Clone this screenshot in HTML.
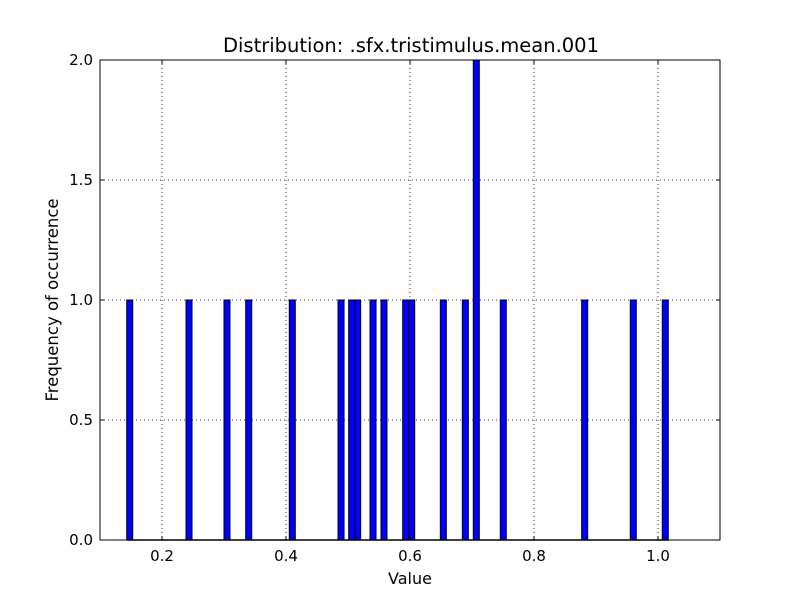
<!DOCTYPE html>
<html><head><meta charset="utf-8"><style>
body{margin:0;background:#fff}
svg text{font-family:"DejaVu Sans","Liberation Sans",sans-serif;fill:#000}
</style></head><body>
<svg id="c" width="800" height="600">
<rect width="800" height="600" fill="#fff"/>
<g id="grid"></g><g id="bars"></g><g id="axes"></g>
</svg>
<script>
const binStarts=[0.1431,0.2387,0.3,0.335,0.4053,0.4839,0.5011,0.5108,0.5355,0.5532,0.5882,0.5979,0.6489,0.6844,0.7021,0.7456,0.8769,0.9553,1.0069];
const counts=[1,1,1,1,1,1,1,1,1,1,1,1,1,1,2,1,1,1,1];
const binWidth=0.00968;
const xTicks=[0.2,0.4,0.6,0.8,1.0];
const xTickLabels=["0.2","0.4","0.6","0.8","1.0"];
const yTicks=[0,0.5,1,1.5,2];
const yTickLabels=["0.0","0.5","1.0","1.5","2.0"];
const L=100,R=720,T=60,B=540,xmin=0.1,xmax=1.1,ymin=0,ymax=2;
const X=v=>L+(v-xmin)/(xmax-xmin)*(R-L);
const Y=v=>B-(v-ymin)/(ymax-ymin)*(B-T);
const NS="http://www.w3.org/2000/svg";
function mk(p,t,a){const e=document.createElementNS(NS,t);for(const k in a)e.setAttribute(k,a[k]);p.appendChild(e);return e;}
const svg=document.getElementById('c'),grid=document.getElementById('grid'),bars=document.getElementById('bars'),axes=document.getElementById('axes');
xTicks.forEach((v,i)=>{
 const g=mk(grid,'line',{x1:X(v),x2:X(v),y1:T,y2:B,stroke:'#000','stroke-dasharray':'1,3','stroke-width':0.8});
 
 
 mk(axes,'line',{x1:X(v),x2:X(v),y1:B,y2:B-4,stroke:'#000'});
 mk(axes,'line',{x1:X(v),x2:X(v),y1:T,y2:T+4,stroke:'#000'});
 const t=mk(axes,'text',{x:X(v),y:B+21,'text-anchor':'middle','font-size':15});t.textContent=xTickLabels[i];
 
 
});
yTicks.forEach((v,i)=>{
 const g=mk(grid,'line',{x1:L,x2:R,y1:Y(v),y2:Y(v),stroke:'#000','stroke-dasharray':'1,3','stroke-width':0.8});
 
 
 mk(axes,'line',{x1:L,x2:L+4,y1:Y(v),y2:Y(v),stroke:'#000'});
 mk(axes,'line',{x1:R,x2:R-4,y1:Y(v),y2:Y(v),stroke:'#000'});
 const t=mk(axes,'text',{x:L-7,y:Y(v)+5,'text-anchor':'end','font-size':15});t.textContent=yTickLabels[i];
 
 
});
binStarts.forEach((v,i)=>{
 const x0=X(v),x1=X(v+binWidth),y=Y(counts[i]);
 const r=mk(bars,'rect',{x:x0,y:y,width:x1-x0,height:B-y,fill:'#0000ff',stroke:'#000','stroke-width':1});
 
 
});
mk(bars,'line',{x1:X(binStarts[0]),x2:X(binStarts[binStarts.length-1]+binWidth),y1:B,y2:B,stroke:'#000','stroke-width':1.5});
const f=mk(axes,'rect',{x:L,y:T,width:R-L,height:B-T,fill:'none',stroke:'#000'});


let t=mk(axes,'text',{x:411,y:52,'text-anchor':'middle','font-size':19.5});t.textContent='Distribution: .sfx.tristimulus.mean.001';


t=mk(axes,'text',{x:410,y:584,'text-anchor':'middle','font-size':16});t.textContent='Value';


t=mk(axes,'text',{x:58,y:300,'text-anchor':'middle','font-size':16.5,transform:'rotate(-90 58 300)'});t.textContent='Frequency of occurrence';


</script>
</body></html>
